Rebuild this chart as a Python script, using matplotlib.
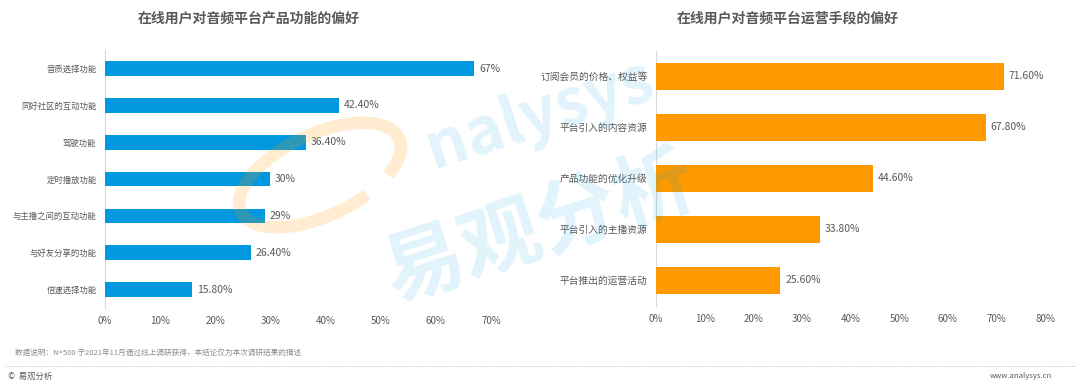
import matplotlib
matplotlib.use("Agg")
import matplotlib.pyplot as plt
from matplotlib.ticker import FuncFormatter
from matplotlib.patches import Arc

plt.rcParams['font.family'] = ['Noto Sans CJK SC', 'DejaVu Sans']

# 左图数据
left_title = "在线用户对音频平台产品功能的偏好"
left_cats = ["音质选择功能", "同好社区的互动功能", "驾驶功能", "定时播放功能",
             "与主播之间的互动功能", "与好友分享的功能", "倍速选择功能"]
left_vals = [0.67, 0.424, 0.364, 0.30, 0.29, 0.264, 0.158]
left_lbls = ["67%", "42.40%", "36.40%", "30%", "29%", "26.40%", "15.80%"]

# 右图数据
right_title = "在线用户对音频平台运营手段的偏好"
right_cats = ["订阅会员的价格、权益等", "平台引入的内容资源", "产品功能的优化升级",
              "平台引入的主播资源", "平台推出的运营活动"]
right_vals = [0.716, 0.678, 0.446, 0.338, 0.256]
right_lbls = ["71.60%", "67.80%", "44.60%", "33.80%", "25.60%"]

note = "数据说明：N=500 于2021年11月通过线上调研获得，本结论仅为本次调研结果的描述"

gray = "#595959"
fig = plt.figure(figsize=(10.8, 3.83), dpi=100)

# 水印（先画，放在底层）
fig.text(0.50, 0.40, "易观分析", ha="center", va="center", fontsize=58,
         color="#0099DF", alpha=0.12, rotation=18, fontweight="bold", zorder=0)
fig.text(0.50, 0.70, "nalysys", ha="center", va="center", fontsize=46,
         color="#0099DF", alpha=0.12, rotation=18, fontweight="bold", zorder=0)
fig.add_artist(Arc((320 / 1080, 1 - 175 / 383), 130 / 1080, 110 / 383, angle=-20,
                   theta1=20, theta2=330, color="#FF9900", alpha=0.18, lw=9,
                   transform=fig.transFigure))

def draw(ax, cats, vals, lbls, color, xmax, height, cat_fs):
    y = range(len(cats))
    ax.barh(y, vals, height=height, color=color, zorder=3)
    for i, (v, t) in enumerate(zip(vals, lbls)):
        ax.text(v + xmax * 0.012, i, t, va="center", ha="left", fontsize=7.5, color=gray)
    ax.set_ylim(len(cats) - 0.5, -0.5)
    ax.set_xlim(0, xmax)
    ax.set_yticks(list(y))
    ax.set_yticklabels(cats, fontsize=cat_fs, color=gray)
    ax.set_xticks([i / 10 for i in range(int(round(xmax * 10)) + 1)])
    ax.xaxis.set_major_formatter(FuncFormatter(lambda x, p: f"{x*100:.0f}%"))
    ax.tick_params(axis="x", length=0, labelsize=7, labelcolor=gray, pad=6)
    ax.tick_params(axis="y", length=0, pad=6)
    for s in ["top", "right", "bottom"]:
        ax.spines[s].set_visible(False)
    ax.spines["left"].set_color("#D9D9D9")
    ax.set_facecolor("none")

ax1 = fig.add_axes([0.0972, 0.196, 0.3574, 0.673])
draw(ax1, left_cats, left_vals, left_lbls, "#0099DF", 0.7, 0.4, 6)

ax2 = fig.add_axes([0.6074, 0.2023, 0.3602, 0.6657])
draw(ax2, right_cats, right_vals, right_lbls, "#FF9900", 0.8, 0.53, 7)

fig.text(249 / 1080, 1 - 18 / 383, left_title, ha="center", va="center",
         fontsize=10, fontweight="bold", color=gray)
fig.text(788 / 1080, 1 - 18 / 383, right_title, ha="center", va="center",
         fontsize=10, fontweight="bold", color=gray)

# 底部说明
fig.text(15 / 1080, 1 - 353 / 383, note, ha="left", va="center", fontsize=5.5, color="#8C8C8C")
fig.add_artist(plt.Line2D([5 / 1080, 1075 / 1080], [1 - 366 / 383] * 2,
                          color="#A6A6A6", lw=0.6, ls=":"))
fig.text(8 / 1080, 1 - 376 / 383, "©  易观分析", ha="left", va="center", fontsize=6, color=gray)
fig.text(1052 / 1080, 1 - 376 / 383, "www.analysys.cn", ha="right", va="center",
         fontsize=5.5, color=gray)

fig.savefig("out.png", dpi=100, facecolor="white")
